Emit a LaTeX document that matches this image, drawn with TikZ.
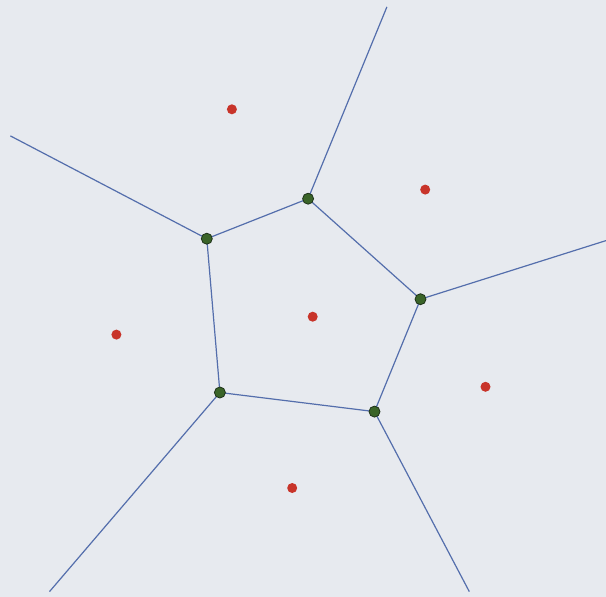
\documentclass[tikz,border=0pt]{standalone}
\definecolor{bg}{RGB}{231,234,239}
\definecolor{edge}{RGB}{84,110,172}
\definecolor{vfill}{RGB}{58,100,40}
\definecolor{vdraw}{RGB}{30,50,25}
\definecolor{site}{RGB}{200,52,42}
\tikzset{
  vertex/.style={circle, fill=vfill, draw=vdraw, line width=0.8pt, inner sep=0pt, minimum size=11pt},
  sitept/.style={circle, fill=site, draw=none, inner sep=0pt, minimum size=10pt},
  ridge/.style={draw=edge, line width=1.2pt}
}
\begin{document}
\begin{tikzpicture}[x=1pt,y=-1pt]
\fill[bg] (0,0) rectangle (606,597);
\useasboundingbox (0,0) rectangle (606,597);
% Voronoi vertices
\coordinate (A) at (308.1,198.7);
\coordinate (B) at (206.8,238.7);
\coordinate (C) at (420.5,299.2);
\coordinate (D) at (219.9,392.5);
\coordinate (E) at (374.5,411.6);
% ray ends
\coordinate (a) at (386.9,6.9);
\coordinate (b) at (10.4,135.9);
\coordinate (c) at (606,240.6);
\coordinate (d) at (49.5,591.6);
\coordinate (e) at (469.3,591.6);
% edges
\draw[ridge] (A) -- (B) -- (D) -- (E) -- (C) -- (A);
\draw[ridge] (A) -- (a);
\draw[ridge] (B) -- (b);
\draw[ridge] (C) -- (c);
\draw[ridge] (D) -- (d);
\draw[ridge] (E) -- (e);
% vertex dots
\node[vertex] (vA) at (A) {};
\node[vertex] (vB) at (B) {};
\node[vertex] (vC) at (C) {};
\node[vertex] (vD) at (D) {};
\node[vertex] (vE) at (E) {};
% sites
\node[sitept] (s1) at (231.9,109.3) {};
\node[sitept] (s2) at (425.2,189.6) {};
\node[sitept] (s3) at (312.7,316.7) {};
\node[sitept] (s4) at (116.4,334.6) {};
\node[sitept] (s5) at (485.5,386.8) {};
\node[sitept] (s6) at (292.2,488.0) {};
\end{tikzpicture}
\end{document}
